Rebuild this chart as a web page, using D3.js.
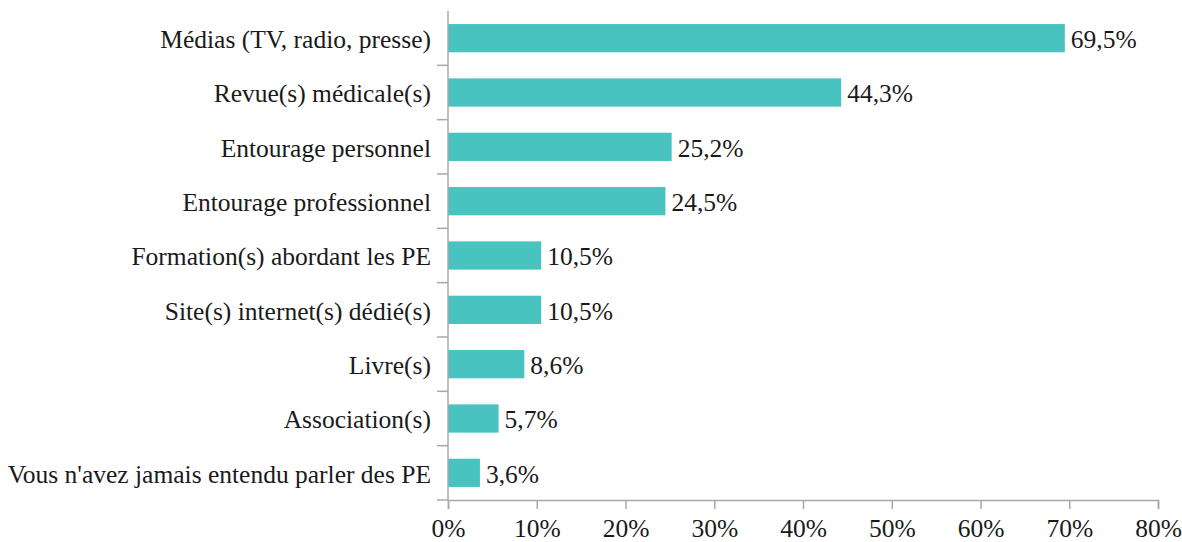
<!DOCTYPE html>
<html>
<head>
<meta charset="utf-8">
<script src="https://cdn.jsdelivr.net/npm/d3@7"></script>
<style>
  body { margin: 0; background: #fff; }
  text { font-family: "Liberation Serif", "Times New Roman", serif; fill: #1a1a1a; }
</style>
</head>
<body>
<div id="plot"></div>
<script>
var categories = ["Médias (TV, radio, presse)", "Revue(s) médicale(s)", "Entourage personnel",
  "Entourage professionnel", "Formation(s) abordant les PE", "Site(s) internet(s) dédié(s)",
  "Livre(s)", "Association(s)", "Vous n'avez jamais entendu parler des PE"];
var values = [69.5, 44.3, 25.2, 24.5, 10.5, 10.5, 8.6, 5.7, 3.6];
var xTicks = [0, 10, 20, 30, 40, 50, 60, 70, 80];

var width = 1182, height = 542;
var margin = {top: 11, right: 24, bottom: 42, left: 448};
var fontSize = "25.5px";

var svg = d3.select("#plot").append("svg")
    .attr("width", width)
    .attr("height", height);

var x = d3.scaleLinear().domain([0, 80]).range([margin.left, width - margin.right]);
var y = d3.scaleBand().domain(categories).range([margin.top, height - margin.bottom]).paddingInner(0.48).paddingOuter(0.24);

var fmt = function(v) { return String(v.toFixed(1)).replace(".", ",") + "%"; };

// bars
svg.selectAll("rect.bar")
   .data(values)
   .enter()
   .append("rect")
   .attr("class", "bar")
   .attr("x", x(0))
   .attr("y", function(d, i) { return y(categories[i]); })
   .attr("width", function(d) { return x(d) - x(0); })
   .attr("height", y.bandwidth())
   .attr("fill", "#48c3bf");

// value labels
svg.selectAll("text.val")
   .data(values)
   .enter()
   .append("text")
   .attr("class", "val")
   .attr("x", function(d) { return x(d) + 6; })
   .attr("y", function(d, i) { return y(categories[i]) + y.bandwidth() / 2 + 1; })
   .attr("dy", "0.35em")
   .attr("font-size", fontSize)
   .text(fmt);

// x axis
var xAxis = svg.append("g")
   .attr("transform", "translate(0," + (height - margin.bottom) + ")")
   .call(d3.axisBottom(x).tickValues(xTicks).tickSize(9).tickPadding(10).tickFormat(function(d) { return d + "%"; }));
xAxis.selectAll("text").attr("font-size", fontSize).attr("font-family", "Liberation Serif").attr("fill", "#1a1a1a");

// y axis: ticks sit between categories
var yTop = margin.top, yBot = height - margin.bottom;
var yAxis = svg.append("g");
yAxis.append("line")
   .attr("x1", x(0)).attr("x2", x(0))
   .attr("y1", yTop).attr("y2", yBot);
var bounds = d3.range(1, categories.length).map(function(i) { return yBot - i * (yBot - yTop) / categories.length; });
yAxis.selectAll("line.t")
   .data(bounds.concat([yBot]))
   .enter()
   .append("line")
   .attr("class", "t")
   .attr("x1", x(0) - 11).attr("x2", x(0))
   .attr("y1", function(d) { return d; }).attr("y2", function(d) { return d; });

svg.selectAll("text.cat")
   .data(categories)
   .enter()
   .append("text")
   .attr("class", "cat")
   .attr("x", x(0) - 17)
   .attr("y", function(d) { return y(d) + y.bandwidth() / 2 + 1; })
   .attr("dy", "0.35em")
   .attr("text-anchor", "end")
   .attr("font-size", fontSize)
   .text(function(d) { return d; });

svg.selectAll("line, path.domain").attr("stroke", "#a8a8a8").attr("stroke-width", 1.5);
</script>
</body>
</html>
